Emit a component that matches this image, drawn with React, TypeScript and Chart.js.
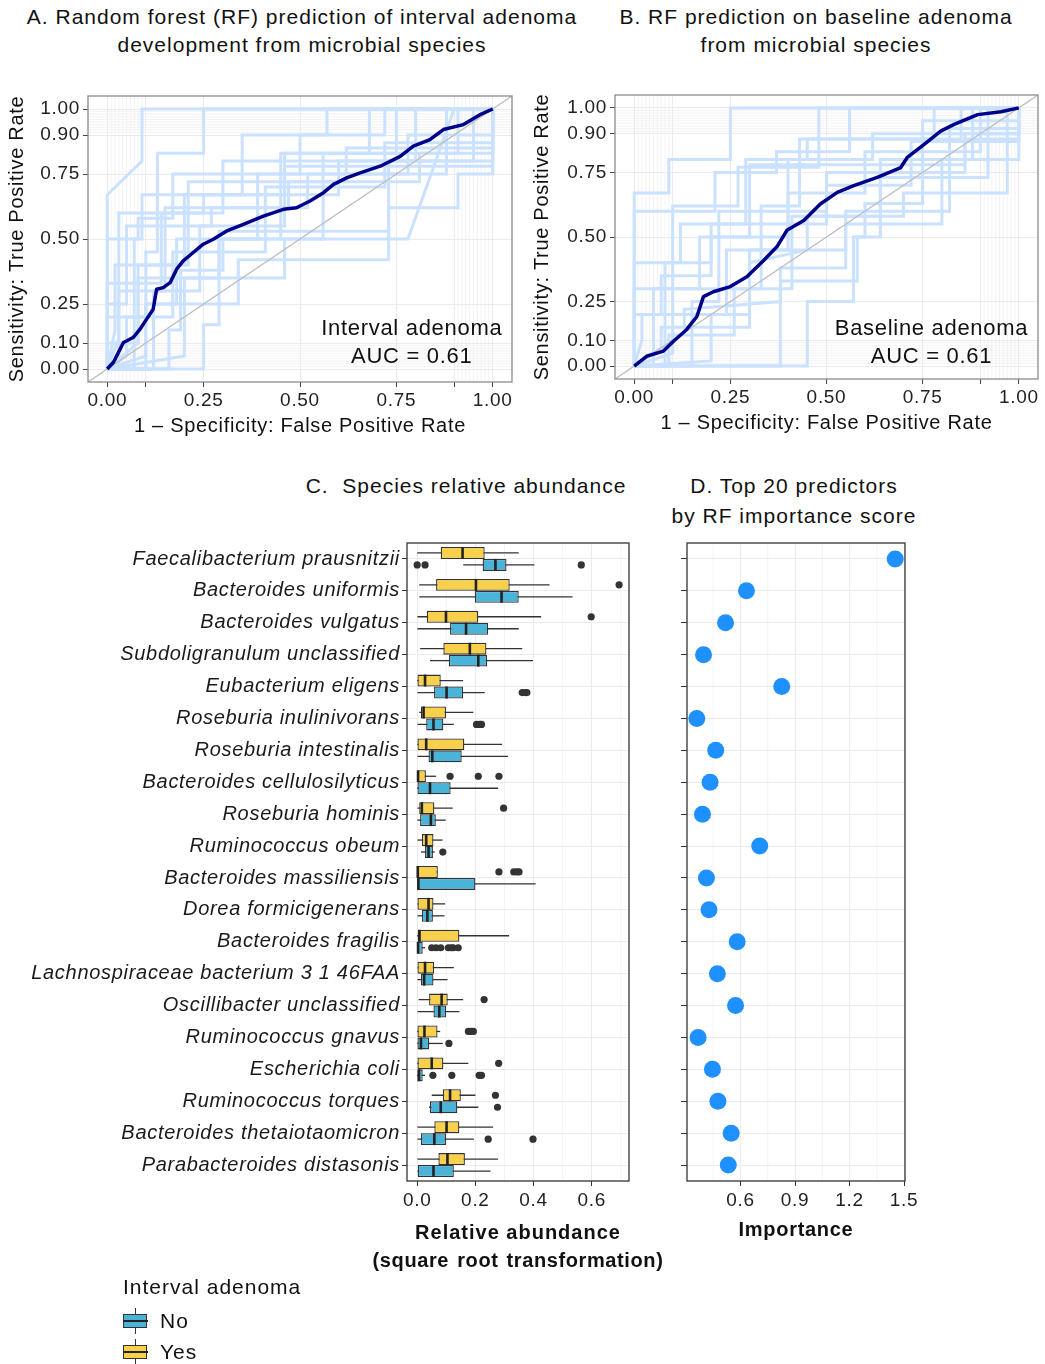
import React, { useEffect, useRef } from 'react';
import { Chart, registerables } from 'chart.js';
Chart.register(...registerables);

const FONT = '"Liberation Sans", Arial, Helvetica, sans-serif';
const TXT = '#222222';
const GRID = '#EBEBEB';
const LIGHT = '#CAE1FF';
const NAVY = '#00008B';
const YELLOW = '#F9D04B';
const BLUE = '#4AB4D8';

// ---------- ROC data ----------
const rocTicks = [0, 0.1, 0.25, 0.5, 0.75, 0.9, 1];
const rocYLabels = ['0.00', '0.10', '0.25', '0.50', '0.75', '0.90', '1.00'];
const rocXLabels = ['0.00', '', '0.25', '0.50', '0.75', '', '1.00'];
const rocMinor = [0.01, 0.02, 0.03, 0.04, 0.05, 0.06, 0.07, 0.08, 0.09, 0.91, 0.92, 0.93, 0.94, 0.95, 0.96, 0.97, 0.98, 0.99];

const meanRocA = [
  [0, 0], [0.016, 0.026], [0.029, 0.064], [0.042, 0.102], [0.067, 0.121], [0.085, 0.153], [0.102, 0.192],
  [0.119, 0.23], [0.128, 0.307], [0.145, 0.313], [0.163, 0.332], [0.18, 0.384], [0.197, 0.416], [0.223, 0.448],
  [0.249, 0.48], [0.275, 0.499], [0.31, 0.531], [0.353, 0.556], [0.405, 0.588], [0.457, 0.614], [0.491, 0.62],
  [0.526, 0.646], [0.561, 0.678], [0.587, 0.71], [0.621, 0.735], [0.656, 0.754], [0.708, 0.78], [0.76, 0.818],
  [0.794, 0.857], [0.837, 0.882], [0.872, 0.921], [0.924, 0.94], [0.967, 0.978], [1, 1],
];

const meanRocB = [
  [0, 0], [0.032, 0.038], [0.076, 0.058], [0.102, 0.096], [0.136, 0.141], [0.163, 0.192], [0.18, 0.269],
  [0.206, 0.288], [0.25, 0.308], [0.293, 0.346], [0.337, 0.41], [0.371, 0.462], [0.397, 0.526], [0.441, 0.564],
  [0.484, 0.628], [0.528, 0.673], [0.571, 0.699], [0.632, 0.731], [0.693, 0.769], [0.71, 0.808], [0.754, 0.859],
  [0.797, 0.91], [0.832, 0.936], [0.893, 0.974], [0.954, 0.985], [1, 1],
];

const foldsA = [
  [[0, 0], [0, 0.67], [0.09, 0.8], [0.09, 1], [1, 1]],
  [[0, 0], [0, 0.5], [0.08, 0.5], [0.08, 0.58], [0.17, 0.58], [0.17, 0.75], [0.5, 0.75], [0.5, 0.9], [0.72, 0.9], [0.72, 1], [1, 1]],
  [[0, 0], [0.25, 0], [0.25, 0.17], [0.29, 0.17], [0.29, 0.5], [0.45, 0.5], [0.45, 0.83], [0.91, 0.83], [0.91, 1], [1, 1]],
  [[0, 0], [0, 0.1], [0.08, 0.1], [0.08, 0.4], [0.2, 0.4], [0.2, 0.67], [0.6, 0.67], [0.6, 0.8], [1, 0.8], [1, 1]],
  [[0, 0], [0.1, 0], [0.1, 0.25], [0.18, 0.25], [0.18, 0.5], [0.39, 0.5], [0.39, 0.75], [0.88, 0.75], [0.88, 1], [1, 1]],
  [[0, 0], [0, 0.33], [0.14, 0.33], [0.14, 0.6], [0.3, 0.6], [0.3, 0.8], [0.8, 0.8], [0.8, 1], [1, 1]],
  [[0, 0], [0.05, 0.05], [0.05, 0.2], [0.17, 0.2], [0.17, 0.45], [0.41, 0.45], [0.41, 0.7], [0.72, 0.7], [0.72, 0.87], [1, 0.87], [1, 1]],
  [[0, 0], [0.12, 0], [0.12, 0.3], [0.24, 0.3], [0.24, 0.55], [0.46, 0.55], [0.46, 0.83], [0.68, 0.83], [0.68, 1], [1, 1]],
  [[0, 0], [0, 0.2], [0.1, 0.2], [0.1, 0.45], [0.13, 0.45], [0.13, 0.67], [0.35, 0.67], [0.35, 0.9], [0.57, 0.9], [0.57, 1], [1, 1]],
  [[0, 0], [0.08, 0.1], [0.08, 0.35], [0.29, 0.35], [0.29, 0.53], [0.73, 0.53], [0.73, 0.8], [0.95, 0.8], [0.95, 1], [1, 1]],
  [[0, 0], [0.02, 0.15], [0.02, 0.4], [0.21, 0.4], [0.21, 0.72], [0.62, 0.72], [0.62, 0.85], [1, 0.85], [1, 1]],
  [[0, 0], [0.1, 0.05], [0.1, 0.25], [0.34, 0.25], [0.34, 0.42], [0.73, 0.42], [0.73, 0.62], [0.91, 0.62], [0.91, 0.75], [1, 0.75], [1, 1]],
  [[0, 0], [0.03, 0], [0.03, 0.6], [0.25, 0.6], [0.25, 0.67], [0.46, 0.67], [0.46, 0.78], [1, 0.78], [1, 1]],
  [[0, 0], [0.2, 0.05], [0.2, 0.35], [0.46, 0.35], [0.46, 0.5], [0.78, 0.5], [0.9, 1], [1, 1]],
  [[0, 0], [0, 0.25], [0.05, 0.25], [0.05, 0.55], [0.27, 0.55], [0.27, 0.62], [0.52, 0.62], [0.52, 0.75], [0.78, 0.75], [0.78, 0.9], [1, 0.9], [1, 1]],
  [[0, 0], [0.16, 0], [0.16, 0.15], [0.19, 0.15], [0.19, 0.38], [0.3, 0.38], [0.3, 0.5], [0.56, 0.5], [0.56, 0.83], [0.75, 0.83], [0.75, 1], [1, 1]],
  [[0, 0], [0.07, 0], [0.07, 0.5], [0.09, 0.5], [0.09, 0.67], [0.13, 0.67], [0.13, 0.83], [0.25, 0.83], [0.25, 1], [1, 1]],
  [[0, 0], [0.03, 0.12], [0.03, 0.3], [0.15, 0.3], [0.15, 0.62], [0.47, 0.62], [0.47, 0.72], [0.81, 0.72], [0.81, 0.83], [1, 0.83], [1, 1]],
];

const foldsB = [
  [[0, 0], [0, 0.67], [0.09, 0.67], [0.09, 0.8], [0.25, 0.8], [0.25, 1], [1, 1]],
  [[0, 0], [0.45, 0], [0.45, 0.25], [0.57, 0.25], [0.57, 0.5], [0.6, 0.5], [0.6, 0.63], [0.75, 0.63], [0.75, 0.75], [0.86, 0.75], [0.86, 0.9], [1, 0.9], [1, 1]],
  [[0, 0], [0, 0.6], [0.21, 0.6], [0.21, 0.75], [0.37, 0.75], [0.37, 0.83], [0.56, 0.83], [0.56, 1], [1, 1]],
  [[0, 0], [0.08, 0], [0.08, 0.4], [0.2, 0.4], [0.2, 0.5], [0.3, 0.5], [0.3, 0.78], [0.86, 0.78], [0.86, 0.88], [1, 0.88], [1, 1]],
  [[0, 0], [0.1, 0.05], [0.1, 0.3], [0.33, 0.3], [0.33, 0.55], [0.5, 0.55], [0.5, 0.7], [0.72, 0.7], [0.72, 0.87], [1, 0.87], [1, 1]],
  [[0, 0], [0.02, 0.1], [0.02, 0.2], [0.24, 0.2], [0.24, 0.45], [0.4, 0.45], [0.4, 0.67], [0.6, 0.67], [0.6, 0.83], [0.9, 0.83], [0.9, 1], [1, 1]],
  [[0, 0], [0.15, 0], [0.15, 0.25], [0.22, 0.25], [0.22, 0.6], [0.5, 0.6], [0.5, 0.75], [0.75, 0.75], [0.75, 0.95], [1, 0.95], [1, 1]],
  [[0, 0], [0.38, 0], [0.38, 0.33], [0.58, 0.33], [0.58, 0.5], [0.64, 0.5], [0.64, 0.8], [0.88, 0.8], [0.88, 1], [1, 1]],
  [[0, 0], [0.07, 0.07], [0.07, 0.15], [0.3, 0.15], [0.3, 0.4], [0.45, 0.45], [0.45, 0.58], [0.7, 0.58], [0.7, 0.67], [0.97, 0.67], [0.97, 1], [1, 1]],
  [[0, 0], [0, 0.4], [0.12, 0.4], [0.12, 0.55], [0.29, 0.55], [0.29, 0.8], [0.45, 0.8], [0.45, 0.88], [0.85, 0.88], [0.85, 1], [1, 1]],
  [[0, 0], [0.13, 0.13], [0.13, 0.22], [0.38, 0.25], [0.38, 0.38], [0.55, 0.38], [0.55, 0.55], [0.8, 0.55], [0.8, 0.8], [1, 0.8], [1, 1]],
  [[0, 0], [0.05, 0], [0.05, 0.3], [0.17, 0.3], [0.17, 0.5], [0.4, 0.5], [0.4, 0.8], [0.62, 0.8], [0.62, 0.9], [1, 0.9], [1, 1]],
  [[0, 0], [0, 0.2], [0.07, 0.2], [0.07, 0.35], [0.2, 0.35], [0.2, 0.55], [0.33, 0.55], [0.33, 0.62], [0.43, 0.62], [0.43, 0.88], [0.78, 0.88], [0.78, 1], [1, 1]],
  [[0, 0], [0.09, 0], [0.09, 0.12], [0.26, 0.12], [0.26, 0.3], [0.41, 0.3], [0.41, 0.58], [0.64, 0.58], [0.64, 0.73], [0.92, 0.73], [0.92, 1], [1, 1]],
  [[0, 0], [0.2, 0.02], [0.2, 0.2], [0.3, 0.2], [0.3, 0.45], [0.55, 0.45], [0.55, 0.6], [0.82, 0.6], [0.82, 0.92], [1, 0.92], [1, 1]],
  [[0, 0], [0, 0.3], [0.1, 0.3], [0.1, 0.62], [0.27, 0.62], [0.27, 0.77], [0.48, 0.77], [0.48, 1], [1, 1]],
];

// ---------- Species data ----------
const species = [
  'Faecalibacterium prausnitzii', 'Bacteroides uniformis', 'Bacteroides vulgatus', 'Subdoligranulum unclassified',
  'Eubacterium eligens', 'Roseburia inulinivorans', 'Roseburia intestinalis', 'Bacteroides cellulosilyticus',
  'Roseburia hominis', 'Ruminococcus obeum', 'Bacteroides massiliensis', 'Dorea formicigenerans',
  'Bacteroides fragilis', 'Lachnospiraceae bacterium 3 1 46FAA', 'Oscillibacter unclassified', 'Ruminococcus gnavus',
  'Escherichia coli', 'Ruminococcus torques', 'Bacteroides thetaiotaomicron', 'Parabacteroides distasonis',
];

// [lower whisker, Q1, median, Q3, upper whisker]
const yesStats = [
  [0.0, 0.081, 0.156, 0.232, 0.349], [0.007, 0.065, 0.202, 0.318, 0.455], [0.001, 0.033, 0.099, 0.21, 0.426],
  [0.01, 0.09, 0.181, 0.238, 0.361], [0.0, 0.001, 0.027, 0.081, 0.158], [0.007, 0.013, 0.022, 0.099, 0.193],
  [0.0, 0.001, 0.031, 0.162, 0.292], [0.0, 0.0, 0.003, 0.03, 0.065], [0.001, 0.007, 0.016, 0.059, 0.122],
  [0.001, 0.016, 0.031, 0.056, 0.087], [0.0, 0.0, 0.002, 0.071, 0.071], [0.001, 0.001, 0.039, 0.056, 0.096],
  [0.0, 0.0, 0.008, 0.145, 0.316], [0.001, 0.001, 0.027, 0.058, 0.126], [0.005, 0.041, 0.084, 0.105, 0.158],
  [0.0, 0.001, 0.025, 0.07, 0.079], [0.0, 0.001, 0.05, 0.09, 0.176], [0.05, 0.088, 0.113, 0.15, 0.2],
  [0.001, 0.059, 0.101, 0.145, 0.261], [0.001, 0.073, 0.104, 0.164, 0.278],
];
const yesOutliers = [
  [], [0.694], [0.598], [], [], [], [], [0.113, 0.21, 0.281], [0.297], [],
  [0.281, 0.332, 0.342, 0.35], [], [], [], [0.23], [0.176, 0.186, 0.193], [0.28], [0.269], [], [],
];
const noStats = [
  [0.158, 0.225, 0.269, 0.307, 0.403], [0.007, 0.198, 0.29, 0.349, 0.534], [0.001, 0.113, 0.168, 0.244, 0.349],
  [0.044, 0.109, 0.21, 0.24, 0.398], [0.001, 0.058, 0.101, 0.158, 0.232], [0.001, 0.031, 0.056, 0.09, 0.126],
  [0.001, 0.039, 0.052, 0.153, 0.312], [0.0, 0.001, 0.044, 0.115, 0.278], [0.001, 0.01, 0.047, 0.064, 0.098],
  [0.013, 0.027, 0.039, 0.054, 0.06], [0.0, 0.0, 0.004, 0.2, 0.407], [0.001, 0.016, 0.035, 0.054, 0.094],
  [0.0, 0.0, 0.003, 0.019, 0.027], [0.001, 0.013, 0.024, 0.056, 0.104], [0.001, 0.056, 0.076, 0.099, 0.145],
  [0.0, 0.001, 0.013, 0.041, 0.088], [0.0, 0.001, 0.006, 0.019, 0.027], [0.041, 0.044, 0.081, 0.138, 0.21],
  [0.001, 0.013, 0.059, 0.099, 0.195], [0.001, 0.002, 0.056, 0.126, 0.252],
];
const noOutliers = [
  [0.0, 0.027, 0.564], [], [], [], [0.361, 0.372, 0.377], [0.204, 0.215, 0.221], [], [], [], [0.088],
  [], [], [0.05, 0.065, 0.081, 0.107, 0.117, 0.124, 0.141], [], [], [0.109], [0.054, 0.119, 0.213, 0.221], [0.276], [0.244, 0.398], [],
];

const abundTicks = [0, 0.2, 0.4, 0.6];
const abundTickLabels = ['0.0', '0.2', '0.4', '0.6'];
const abundMinor = [0.1, 0.3, 0.5, 0.7];

const importance = [
  1.451, 0.633, 0.518, 0.397, 0.827, 0.36, 0.464, 0.433, 0.391, 0.706,
  0.413, 0.427, 0.582, 0.473, 0.573, 0.367, 0.446, 0.476, 0.549, 0.533,
];
const impTicks = [0.6, 0.9, 1.2, 1.5];
const impTickLabels = ['0.6', '0.9', '1.2', '1.5'];
const impMinor = [0.45, 0.75, 1.05, 1.35];

// ---------- helpers ----------
const spacingPlugin = (sp: string) => ({
  id: 'letterSpacing',
  beforeLayout(chart: any) { (chart.ctx as any).letterSpacing = sp; },
  beforeDraw(chart: any) { (chart.ctx as any).letterSpacing = sp; },
});

const borderPlugin = (color: string) => ({
  id: 'panelBorder',
  afterDraw(chart: any) {
    const { ctx, chartArea: a } = chart;
    ctx.save();
    ctx.strokeStyle = color;
    ctx.lineWidth = 1.3;
    ctx.strokeRect(a.left, a.top, a.right - a.left, a.bottom - a.top);
    ctx.restore();
  },
});

const minorGridPlugin = (xs: number[], ys: number[]) => ({
  id: 'minorGrid',
  beforeDatasetsDraw(chart: any) {
    const { ctx, chartArea: a, scales } = chart;
    ctx.save();
    ctx.strokeStyle = '#EEEEEE';
    ctx.lineWidth = 0.7;
    xs.forEach((v) => {
      const px = scales.x.getPixelForValue(v);
      ctx.beginPath(); ctx.moveTo(px, a.top); ctx.lineTo(px, a.bottom); ctx.stroke();
    });
    ys.forEach((v) => {
      const py = scales.y.getPixelForValue(v);
      ctx.beginPath(); ctx.moveTo(a.left, py); ctx.lineTo(a.right, py); ctx.stroke();
    });
    ctx.restore();
  },
});

function makeRoc(canvas: HTMLCanvasElement, mean: number[][], folds: number[][][], label: string,
  ann: { x: number; y1: number; y2: number }, yW: number, pad: any, titlePadX: number) {
  const datasets: any[] = [];
  datasets.push({ data: mean.map((p) => ({ x: p[0], y: p[1] })), showLine: true, borderColor: NAVY, borderWidth: 3.5, pointRadius: 0, order: 0, borderJoinStyle: 'round' });
  datasets.push({ data: [{ x: -0.05, y: -0.05 }, { x: 1.05, y: 1.05 }], showLine: true, borderColor: '#BDBDBD', borderWidth: 1.3, pointRadius: 0, order: 1 });
  folds.forEach((f) => datasets.push({ data: f.map((p) => ({ x: p[0], y: p[1] })), showLine: true, borderColor: LIGHT, borderWidth: 3, pointRadius: 0, order: 2 }));
  const tickFont = { family: FONT, size: 19 };
  const annPlugin = {
    id: 'rocAnn',
    afterDatasetsDraw(chart: any) {
      const { ctx, scales } = chart;
      ctx.save();
      ctx.font = `22px ${FONT}`;
      ctx.fillStyle = '#111';
      ctx.textAlign = 'center';
      ctx.textBaseline = 'middle';
      ctx.fillText(label, scales.x.getPixelForValue(ann.x), scales.y.getPixelForValue(ann.y1));
      ctx.fillText('AUC = 0.61', scales.x.getPixelForValue(ann.x), scales.y.getPixelForValue(ann.y2));
      ctx.restore();
    },
  };
  return new Chart(canvas, {
    type: 'scatter',
    data: { datasets },
    options: {
      animation: false,
      responsive: false,
      layout: { padding: pad },
      plugins: { legend: { display: false }, tooltip: { enabled: false } },
      scales: {
        x: {
          type: 'linear', min: -0.05, max: 1.05,
          afterBuildTicks: (s: any) => { s.ticks = rocTicks.map((v) => ({ value: v })); },
          afterFit: (s: any) => { s.height = 60; },
          ticks: { callback: (_v: any, i: number) => rocXLabels[i], font: tickFont, color: TXT, padding: 2, maxRotation: 0, autoSkip: false },
          grid: { color: GRID, lineWidth: 1, tickLength: 5, tickColor: '#444' },
          border: { display: false },
          title: { display: true, text: '1 – Specificity: False Positive Rate', font: { family: FONT, size: 20 }, color: '#111', padding: { top: 0, bottom: 4 } },
        },
        y: {
          type: 'linear', min: -0.05, max: 1.05,
          afterBuildTicks: (s: any) => { s.ticks = rocTicks.map((v) => ({ value: v })); },
          afterFit: (s: any) => { s.width = yW; },
          ticks: { callback: (_v: any, i: number) => rocYLabels[i], font: tickFont, color: TXT, padding: 3, autoSkip: false },
          grid: { color: GRID, lineWidth: 1, tickLength: 5, tickColor: '#444' },
          border: { display: false },
          title: { display: true, text: 'Sensitivity: True Positive Rate', font: { family: FONT, size: 20 }, color: '#111', padding: { top: titlePadX, bottom: 0 } },
        },
      },
    } as any,
    plugins: [spacingPlugin('0.7px'), minorGridPlugin(rocMinor, rocMinor), annPlugin, borderPlugin('#8C8C8C')],
  });
}

function makeBox(canvas: HTMLCanvasElement) {
  const stats = [yesStats, noStats];
  const outs = [yesOutliers, noOutliers];
  const boxPlugin = {
    id: 'boxParts',
    beforeDatasetsDraw(chart: any) {
      const { ctx, scales } = chart;
      ctx.save();
      ctx.strokeStyle = '#333';
      ctx.lineWidth = 1.3;
      [0, 1].forEach((d) => {
        chart.getDatasetMeta(d).data.forEach((el: any, j: number) => {
          const s = stats[d][j];
          ctx.beginPath();
          ctx.moveTo(scales.x.getPixelForValue(s[0]), el.y);
          ctx.lineTo(scales.x.getPixelForValue(s[4]), el.y);
          ctx.stroke();
        });
      });
      ctx.restore();
    },
    afterDatasetsDraw(chart: any) {
      const { ctx, scales } = chart;
      ctx.save();
      [0, 1].forEach((d) => {
        chart.getDatasetMeta(d).data.forEach((el: any, j: number) => {
          const s = stats[d][j];
          const h = el.height;
          const mx = scales.x.getPixelForValue(s[2]);
          ctx.strokeStyle = '#222';
          ctx.lineWidth = 2.6;
          ctx.beginPath();
          ctx.moveTo(mx, el.y - h / 2);
          ctx.lineTo(mx, el.y + h / 2);
          ctx.stroke();
          ctx.fillStyle = '#333';
          outs[d][j].forEach((v: number) => {
            ctx.beginPath();
            ctx.arc(scales.x.getPixelForValue(v), el.y, 3.6, 0, Math.PI * 2);
            ctx.fill();
          });
        });
      });
      ctx.restore();
    },
  };
  return new Chart(canvas, {
    type: 'bar',
    data: {
      labels: species,
      datasets: [
        { label: 'Yes', data: yesStats.map((s) => [s[1], s[3]]), backgroundColor: YELLOW, borderColor: '#333', borderWidth: 1.3, borderSkipped: false, categoryPercentage: 0.75, barPercentage: 1 },
        { label: 'No', data: noStats.map((s) => [s[1], s[3]]), backgroundColor: BLUE, borderColor: '#333', borderWidth: 1.3, borderSkipped: false, categoryPercentage: 0.75, barPercentage: 1 },
      ],
    },
    options: {
      animation: false,
      responsive: false,
      indexAxis: 'y',
      layout: { padding: { left: 0, right: 21, top: 83, bottom: 3 } },
      plugins: { legend: { display: false }, tooltip: { enabled: false } },
      scales: {
        x: {
          type: 'linear', min: -0.035, max: 0.728,
          afterBuildTicks: (s: any) => { s.ticks = abundTicks.map((v) => ({ value: v })); },
          afterFit: (s: any) => { s.height = 96; },
          ticks: { callback: (_v: any, i: number) => abundTickLabels[i], font: { family: FONT, size: 19 }, color: TXT, padding: 3, maxRotation: 0, autoSkip: false },
          grid: { color: GRID, lineWidth: 1, tickLength: 5, tickColor: '#333' },
          border: { display: false },
          title: { display: false },
        },
        y: {
          type: 'category', offset: true,
          afterFit: (s: any) => { s.width = 407; },
          ticks: { font: { family: FONT, size: 20, style: 'italic' }, color: '#1a1a1a', padding: 2, autoSkip: false },
          grid: { offset: false, color: GRID, lineWidth: 1, tickLength: 5, tickColor: '#333' },
          border: { display: false },
        },
      },
    } as any,
    plugins: [spacingPlugin('0.7px'), minorGridPlugin(abundMinor, []), boxPlugin, borderPlugin('#333')],
  });
}

function makeDots(canvas: HTMLCanvasElement) {
  return new Chart(canvas, {
    type: 'scatter',
    data: {
      datasets: [{ data: importance.map((v, i) => ({ x: v, y: i })), backgroundColor: '#1E90FF', borderWidth: 0, pointRadius: 8.5 }],
    },
    options: {
      animation: false,
      responsive: false,
      layout: { padding: { left: 0, right: 140, top: 83, bottom: 32 } },
      plugins: { legend: { display: false }, tooltip: { enabled: false } },
      scales: {
        x: {
          type: 'linear', min: 0.306, max: 1.505,
          afterBuildTicks: (s: any) => { s.ticks = impTicks.map((v) => ({ value: v })); },
          afterFit: (s: any) => { s.height = 67; },
          ticks: { callback: (_v: any, i: number) => impTickLabels[i], font: { family: FONT, size: 19 }, color: TXT, padding: 3, maxRotation: 0, autoSkip: false },
          grid: { color: GRID, lineWidth: 1, tickLength: 5, tickColor: '#333' },
          border: { display: false },
          title: { display: true, text: 'Importance', font: { family: FONT, size: 20, weight: 'bold', lineHeight: 1.4 }, color: '#111', padding: { top: 0, bottom: 4 } },
        },
        y: {
          type: 'linear', min: -0.5, max: 19.5, reverse: true,
          afterBuildTicks: (s: any) => { s.ticks = species.map((_n, i) => ({ value: i })); },
          afterFit: (s: any) => { s.width = 37; },
          ticks: { callback: () => '', autoSkip: false },
          grid: { color: GRID, lineWidth: 1, tickLength: 6, tickColor: '#333' },
          border: { display: false },
        },
      },
    } as any,
    plugins: [spacingPlugin('0.7px'), minorGridPlugin(impMinor, []), borderPlugin('#333')],
  });
}

const textStyle: React.CSSProperties = { position: 'absolute', fontFamily: FONT, fontSize: 21, letterSpacing: '1px', color: '#111', whiteSpace: 'nowrap', lineHeight: '28px' };

function LegendKey({ color, top }: { color: string; top: number }) {
  return (
    <div style={{ position: 'absolute', left: 123, top, width: 25, height: 26 }}>
      <div style={{ position: 'absolute', left: 11.5, top: 0, width: 1.5, height: 26, background: '#333' }} />
      <div style={{ position: 'absolute', left: 0, top: 6, width: 22, height: 12, background: color, border: '1.3px solid #333' }} />
      <div style={{ position: 'absolute', left: 0, top: 12, width: 25, height: 2, background: '#222' }} />
    </div>
  );
}

export default function App() {
  const refA = useRef<HTMLCanvasElement>(null);
  const refB = useRef<HTMLCanvasElement>(null);
  const refC = useRef<HTMLCanvasElement>(null);
  const refD = useRef<HTMLCanvasElement>(null);

  useEffect(() => {
    const charts = [
      makeRoc(refA.current!, meanRocA, foldsA, 'Interval adenoma', { x: 0.79, y1: 0.153, y2: 0.046 }, 88, { left: 0, right: 13, top: 36, bottom: 8 }, 5),
      makeRoc(refB.current!, meanRocB, foldsB, 'Baseline adenoma', { x: 0.773, y1: 0.142, y2: 0.035 }, 90, { left: 0, right: 7, top: 35, bottom: 8 }, 5),
      makeBox(refC.current!),
      makeDots(refD.current!),
    ];
    return () => charts.forEach((c) => c.destroy());
  }, []);

  return (
    <div style={{ position: 'absolute', left: 0, top: 0, width: 1045, height: 1364, background: '#fff', overflow: 'hidden' }}>
      <div style={{ ...textStyle, left: 0, width: 604, top: 3, textAlign: 'center' }}>
        A. Random forest (RF) prediction of interval adenoma<br />development from microbial species
      </div>
      <div style={{ ...textStyle, left: 566, width: 500, top: 3, textAlign: 'center' }}>
        B. RF prediction on baseline adenoma<br />from microbial species
      </div>
      <div style={{ ...textStyle, left: 266, width: 400, top: 472, textAlign: 'center' }}>C.&nbsp; Species relative abundance</div>
      <div style={{ ...textStyle, left: 594, width: 400, top: 471, textAlign: 'center', lineHeight: '30px' }}>
        D. Top 20 predictors<br />by RF importance score
      </div>
      <canvas ref={refA} width={525} height={390} style={{ position: 'absolute', left: 0, top: 60 }} />
      <canvas ref={refB} width={520} height={387} style={{ position: 'absolute', left: 525, top: 60 }} />
      <canvas ref={refC} width={650} height={820} style={{ position: 'absolute', left: 0, top: 460 }} />
      <canvas ref={refD} width={395} height={820} style={{ position: 'absolute', left: 650, top: 460 }} />
      <div style={{ ...textStyle, left: 318, width: 400, top: 1218, textAlign: 'center', fontSize: 20, fontWeight: 'bold', letterSpacing: '1px' }}>
        Relative abundance<br /><span style={{ letterSpacing: '0.6px', wordSpacing: '2px' }}>(square root transformation)</span>
      </div>
      <div style={{ ...textStyle, left: 123, top: 1273 }}>Interval adenoma</div>
      <LegendKey color={BLUE} top={1308} />
      <div style={{ ...textStyle, left: 160, top: 1307 }}>No</div>
      <LegendKey color={YELLOW} top={1339} />
      <div style={{ ...textStyle, left: 160, top: 1338 }}>Yes</div>
    </div>
  );
}
